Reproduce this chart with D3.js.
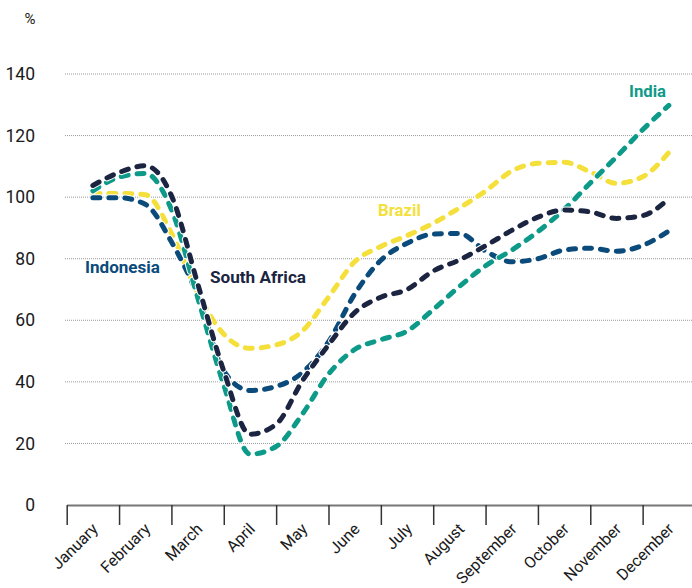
<!DOCTYPE html>
<html>
<head>
<meta charset="utf-8">
<script src="https://cdn.jsdelivr.net/npm/d3@7"></script>
<style>
  body { margin: 0; background: #fff; }
  svg { display: block; font-family: "Roboto", "Liberation Sans", sans-serif; }
</style>
</head>
<body>
<svg id="chart"></svg>
<script>
// month labels on the x axis
var months = ["January", "February", "March", "April", "May", "June",
    "July", "August", "September", "October", "November", "December"];

// readings every half month (0 = January)
var steps = [0, 0.5, 1, 1.5, 2, 2.5, 3, 3.5, 4, 4.5, 5, 5.5,
    6, 6.5, 7, 7.5, 8, 8.5, 9, 9.5, 10, 10.5, 11];

var brazil = [101.2, 101.2, 100.8, 88.3, 69, 55.5, 50.9, 52, 56.5, 67.5, 79, 84,
    87.5, 91.5, 96.5, 102, 108.5, 111, 111.3, 108.2, 104.5, 106.6, 114.5];
var indonesia = [99.8, 99.8, 97.7, 85.5, 68, 43.5, 37.2, 38.5, 43, 53, 68.5, 79.5,
    85, 88, 88.2, 82.5, 79, 80, 82.8, 83.4, 82.4, 84.3, 89];
var india = [102, 106.5, 107.7, 96, 67.5, 39, 16.5, 19, 29.5, 42.5, 50.5, 53.7,
    56.5, 63.5, 71, 77.7, 82.8, 88.8, 96, 104.6, 113.1, 121.9, 129.8];
var southAfrica = [103.8, 108, 110.2, 100.5, 72, 43.5, 23, 26.2, 40.3, 52, 62.5, 67.5,
    70, 76, 79.6, 84.2, 89.2, 93.5, 95.8, 95.2, 93.1, 94, 99.5];

var yTicks = [0, 20, 40, 60, 80, 100, 120, 140];

var width = 692, height = 588;
var svg = d3.select("#chart").attr("width", width).attr("height", height);

var plotLeft = 66.7, plotRight = 695, plotTop = 74, plotBottom = 505;

var x = d3.scaleLinear().domain([-0.5, 11.5]).range([plotLeft, plotRight]);
var y = d3.scaleLinear().domain([0, 140]).range([plotBottom, plotTop]);

// gridlines
svg.append("g")
    .selectAll("line")
    .data(yTicks.filter(function (d) { return d > 0; }))
    .enter().append("line")
    .attr("x1", 65).attr("x2", width)
    .attr("y1", function (d) { return y(d); })
    .attr("y2", function (d) { return y(d); })
    .attr("stroke", "#9a9a9a")
    .attr("stroke-width", 1)
    .attr("stroke-dasharray", "1,1");

// y labels
var yAxis = d3.axisLeft(y).tickValues(yTicks).tickSize(0).tickPadding(3);
svg.append("g")
    .attr("transform", "translate(38,0)")
    .call(yAxis)
    .call(function (g) { g.select(".domain").remove(); })
    .selectAll("text")
    .attr("font-size", 17.5)
    .attr("font-family", "Roboto, sans-serif")
    .attr("fill", "#1a1a1a");

svg.append("text")
    .attr("x", 30).attr("y", 24)
    .attr("text-anchor", "middle")
    .attr("font-size", 15)
    .attr("fill", "#1a1a1a")
    .text("%");

// x axis: ticks sit on the month boundaries
var xAxis = d3.axisBottom(x)
    .tickValues(steps.filter(function (d) { return d % 1 === 0; }).map(function (d) { return d - 0.5; }))
    .tickSize(20)
    .tickSizeOuter(0)
    .tickFormat("");
var gx = svg.append("g")
    .attr("transform", "translate(0," + plotBottom + ")")
    .call(xAxis);
gx.select(".domain").attr("stroke", "#777").attr("stroke-width", 2);
gx.selectAll(".tick line").attr("stroke", "#333").attr("stroke-width", 1.5);

svg.append("g")
    .selectAll("text")
    .data(months)
    .enter().append("text")
    .attr("transform", function (d, i) {
        return "translate(" + (x(i) + 6) + ",530) rotate(-45)";
    })
    .attr("text-anchor", "end")
    .attr("font-size", 16)
    .attr("fill", "#1a1a1a")
    .text(function (d) { return d; });

// lines
var series = [
    { name: "Brazil", values: brazil, color: "#f4df3b" },
    { name: "Indonesia", values: indonesia, color: "#0b4b7b" },
    { name: "India", values: india, color: "#0e9a89" },
    { name: "South Africa", values: southAfrica, color: "#1b2440" }
];

var line = d3.line()
    .x(function (d, i) { return x(steps[i]); })
    .y(function (d) { return y(d); })
    .curve(d3.curveMonotoneX);

var lines = svg.append("g");
series.forEach(function (s) {
    lines.append("path")
        .attr("d", line(s.values))
        .attr("fill", "none")
        .attr("stroke", "#fff")
        .attr("stroke-width", 7)
        .attr("stroke-linecap", "round")
        .attr("stroke-dasharray", "7,9");
    lines.append("path")
        .attr("d", line(s.values))
        .attr("fill", "none")
        .attr("stroke", s.color)
        .attr("stroke-width", 5)
        .attr("stroke-linecap", "round")
        .attr("stroke-dasharray", "7,9");
});

// series labels
var labels = [
    { text: "Indonesia", x: 85, y: 273, w: 75, color: "#0b4b7b" },
    { text: "South Africa", x: 210, y: 283, w: 96, color: "#1b2440" },
    { text: "Brazil", x: 378, y: 216, w: 43, color: "#f4df3b" },
    { text: "India", x: 629, y: 97, w: 37, color: "#0e9a89" }
];
svg.append("g")
    .selectAll("text")
    .data(labels)
    .enter().append("text")
    .attr("x", function (d) { return d.x; })
    .attr("y", function (d) { return d.y; })
    .attr("textLength", function (d) { return d.w; })
    .attr("lengthAdjust", "spacingAndGlyphs")
    .attr("font-size", 17)
    .attr("font-weight", "bold")
    .attr("fill", function (d) { return d.color; })
    .text(function (d) { return d.text; });
</script>
</body>
</html>
